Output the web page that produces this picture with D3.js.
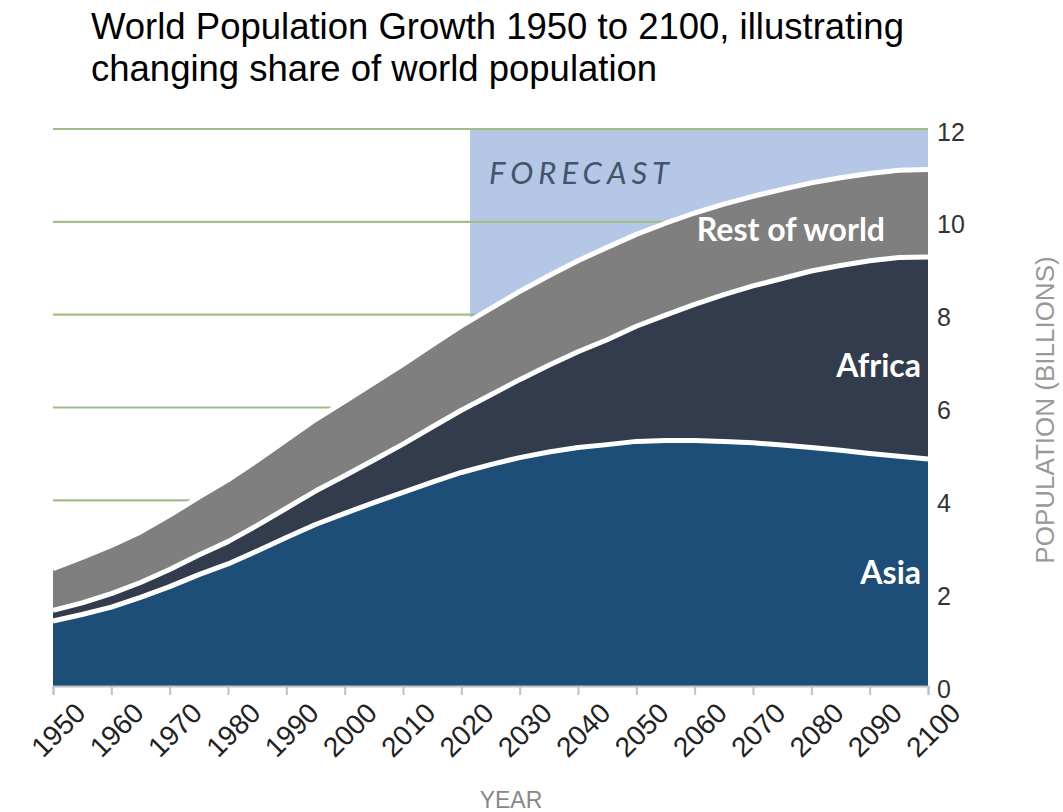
<!DOCTYPE html>
<html>
<head>
<meta charset="utf-8">
<script src="https://cdn.jsdelivr.net/npm/d3@7"></script>
<style>
  body { margin: 0; background: #fff; }
  svg { display: block; }
</style>
</head>
<body>
<div id="chart"></div>
<script>
// population in billions, 5-year steps
const years = [1950, 1955, 1960, 1965, 1970, 1975, 1980, 1985, 1990, 1995, 2000, 2005, 2010, 2015, 2020, 2025,
    2030, 2035, 2040, 2045, 2050, 2055, 2060, 2065, 2070, 2075, 2080, 2085, 2090, 2095, 2100];
const asia = [1.40, 1.54, 1.70, 1.91, 2.14, 2.40, 2.63, 2.91, 3.20, 3.48, 3.72, 3.95, 4.17, 4.39, 4.60, 4.77,
    4.92, 5.04, 5.14, 5.20, 5.27, 5.29, 5.29, 5.27, 5.24, 5.19, 5.14, 5.08, 5.01, 4.95, 4.89];
const africa = [0.23, 0.25, 0.29, 0.32, 0.37, 0.42, 0.48, 0.55, 0.63, 0.72, 0.81, 0.92, 1.04, 1.19, 1.34, 1.50,
    1.68, 1.87, 2.06, 2.26, 2.48, 2.70, 2.93, 3.16, 3.38, 3.59, 3.80, 3.98, 4.15, 4.28, 4.35];
const restOfWorld = [0.90, 0.98, 1.04, 1.09, 1.17, 1.25, 1.33, 1.40, 1.47, 1.54, 1.60, 1.66, 1.72, 1.77, 1.82, 1.86,
    1.90, 1.93, 1.96, 1.99, 1.98, 1.98, 1.97, 1.95, 1.93, 1.92, 1.90, 1.89, 1.88, 1.88, 1.89];
const seriesNames = ["Asia", "Africa", "Rest of world"];
const xTicks = d3.range(1950, 2101, 10);
const yTicks = [0, 2, 4, 6, 8, 10, 12];
const gridValues = [4, 6, 8, 10, 12];
const forecastStart = 2021.5;

const width = 1063, height = 812;
const plot = { left: 53, right: 928, top: 129, bottom: 686 };

const svg = d3.select("#chart")
    .append("svg")
    .attr("width", width)
    .attr("height", height);

const x = d3.scaleLinear().domain([1950, 2100]).range([plot.left, plot.right]);
const y = d3.scaleLinear().domain([0, 12]).range([plot.bottom, plot.top]);

const rows = years.map((yr, i) => ({ year: yr, "Asia": asia[i], "Africa": africa[i], "Rest of world": restOfWorld[i] }));
const stacked = d3.stack().keys(seriesNames)(rows);
const colors = { "Asia": "#1d4e77", "Africa": "#323c4c", "Rest of world": "#7f7f7f" };

// title
const title = svg.append("text")
    .attr("font-family", "Liberation Sans, Arial, sans-serif")
    .attr("font-size", 36.5)
    .attr("fill", "#000");
title.append("tspan").attr("x", 91).attr("y", 39).text("World Population Growth 1950 to 2100, illustrating");
title.append("tspan").attr("x", 91).attr("y", 81).text("changing share of world population");

// forecast shading
svg.append("rect")
    .attr("x", x(forecastStart))
    .attr("y", y(12))
    .attr("width", x(2100) - x(forecastStart))
    .attr("height", y(0) - y(12))
    .attr("fill", "#b4c7e7");

// gridlines
svg.append("g")
    .selectAll("line")
    .data(gridValues)
    .enter()
    .append("line")
    .attr("x1", plot.left)
    .attr("x2", plot.right)
    .attr("y1", d => y(d))
    .attr("y2", d => y(d))
    .attr("stroke", "#a3bd89")
    .attr("stroke-width", 2.2);

svg.append("text")
    .attr("x", 489)
    .attr("y", 184)
    .attr("font-family", "Lato, sans-serif")
    .attr("font-style", "italic")
    .attr("font-size", 31)
    .attr("letter-spacing", 5)
    .attr("fill", "#44546a")
    .text("FORECAST");

// stacked areas
const area = d3.area()
    .x(d => x(d.data.year))
    .y0(d => y(d[0]))
    .y1(d => y(d[1]));

svg.append("g")
    .selectAll("path")
    .data(stacked)
    .enter()
    .append("path")
    .attr("d", area)
    .attr("fill", d => colors[d.key]);

// white separator lines on top of each layer
const topLine = d3.line()
    .x(d => x(d.data.year))
    .y(d => y(d[1]));

svg.append("g")
    .selectAll("path")
    .data(stacked)
    .enter()
    .append("path")
    .attr("d", topLine)
    .attr("fill", "none")
    .attr("stroke", "#fff")
    .attr("stroke-width", 5)
    .attr("stroke-linejoin", "round");

// series labels
const labelPos = [
    { name: "Rest of world", x: 885, y: 241 },
    { name: "Africa", x: 921, y: 377 },
    { name: "Asia", x: 921, y: 584 }
];
svg.append("g")
    .selectAll("text")
    .data(labelPos)
    .enter()
    .append("text")
    .attr("x", d => d.x)
    .attr("y", d => d.y)
    .attr("text-anchor", "end")
    .attr("font-family", "Lato, sans-serif")
    .attr("font-weight", 700)
    .attr("font-size", 32)
    .attr("fill", "#fff")
    .text(d => d.name);

// x axis
const xAxis = svg.append("g")
    .attr("transform", `translate(0, ${plot.bottom})`)
    .call(d3.axisBottom(x).tickValues(xTicks).tickFormat(d3.format("d")).tickSizeOuter(0).tickSize(9).tickPadding(6));
xAxis.select(".domain").attr("stroke", "#c0c0c8").attr("stroke-width", 2);
xAxis.selectAll(".tick line").attr("stroke", "#c0c0c8").attr("stroke-width", 2);
xAxis.selectAll(".tick text")
    .attr("font-family", "Liberation Sans, Arial, sans-serif")
    .attr("font-size", 28)
    .attr("fill", "#222")
    .attr("text-anchor", "end")
    .attr("transform", "translate(9, 4) rotate(-45)");

// y axis on the right, labels only
const yAxis = svg.append("g")
    .attr("transform", `translate(${plot.right}, 3)`)
    .call(d3.axisRight(y).tickValues(yTicks).tickSize(0).tickPadding(9));
yAxis.select(".domain").remove();
yAxis.selectAll(".tick text")
    .attr("font-family", "Liberation Sans, Arial, sans-serif")
    .attr("font-size", 25)
    .attr("fill", "#333");

svg.append("text")
    .attr("x", 511)
    .attr("y", 808)
    .attr("text-anchor", "middle")
    .attr("font-family", "Liberation Sans, Arial, sans-serif")
    .attr("font-size", 23)
    .attr("fill", "#888")
    .text("YEAR");

svg.append("text")
    .attr("transform", `translate(1054, 410) rotate(-90)`)
    .attr("text-anchor", "middle")
    .attr("font-family", "Liberation Sans, Arial, sans-serif")
    .attr("font-size", 26)
    .attr("fill", "#999")
    .text("POPULATION (BILLIONS)");
</script>
</body>
</html>
